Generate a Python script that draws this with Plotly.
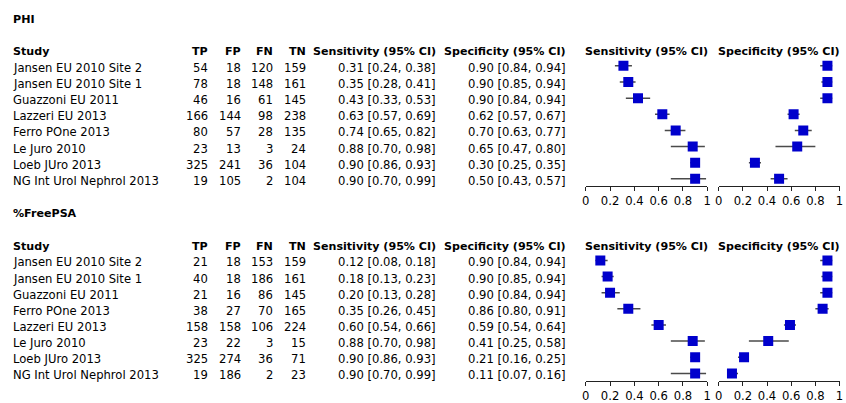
import plotly.graph_objects as go

# ---------------- data ----------------
phi_studies = ["Jansen EU 2010 Site 2", "Jansen EU 2010 Site 1", "Guazzoni EU 2011",
               "Lazzeri EU 2013", "Ferro POne 2013", "Le Juro 2010", "Loeb JUro 2013",
               "NG Int Urol Nephrol 2013"]
phi_tp = [54, 78, 46, 166, 80, 23, 325, 19]
phi_fp = [18, 18, 16, 144, 57, 13, 241, 105]
phi_fn = [120, 148, 61, 98, 28, 3, 36, 2]
phi_tn = [159, 161, 145, 238, 135, 24, 104, 104]
phi_sens = [0.31, 0.35, 0.43, 0.63, 0.74, 0.88, 0.90, 0.90]
phi_sens_lo = [0.24, 0.28, 0.33, 0.57, 0.65, 0.70, 0.86, 0.70]
phi_sens_hi = [0.38, 0.41, 0.53, 0.69, 0.82, 0.98, 0.93, 0.99]
phi_spec = [0.90, 0.90, 0.90, 0.62, 0.70, 0.65, 0.30, 0.50]
phi_spec_lo = [0.84, 0.85, 0.84, 0.57, 0.63, 0.47, 0.25, 0.43]
phi_spec_hi = [0.94, 0.94, 0.94, 0.67, 0.77, 0.80, 0.35, 0.57]

fpsa_studies = ["Jansen EU 2010 Site 2", "Jansen EU 2010 Site 1", "Guazzoni EU 2011",
                "Ferro POne 2013", "Lazzeri EU 2013", "Le Juro 2010", "Loeb JUro 2013",
                "NG Int Urol Nephrol 2013"]
fpsa_tp = [21, 40, 21, 38, 158, 23, 325, 19]
fpsa_fp = [18, 18, 16, 27, 158, 22, 274, 186]
fpsa_fn = [153, 186, 86, 70, 106, 3, 36, 2]
fpsa_tn = [159, 161, 145, 165, 224, 15, 71, 23]
fpsa_sens = [0.12, 0.18, 0.20, 0.35, 0.60, 0.88, 0.90, 0.90]
fpsa_sens_lo = [0.08, 0.13, 0.13, 0.26, 0.54, 0.70, 0.86, 0.70]
fpsa_sens_hi = [0.18, 0.23, 0.28, 0.45, 0.66, 0.98, 0.93, 0.99]
fpsa_spec = [0.90, 0.90, 0.90, 0.86, 0.59, 0.41, 0.21, 0.11]
fpsa_spec_lo = [0.84, 0.85, 0.84, 0.80, 0.54, 0.25, 0.16, 0.07]
fpsa_spec_hi = [0.94, 0.94, 0.94, 0.91, 0.64, 0.58, 0.25, 0.16]

panel_titles = ["PHI", "%FreePSA"]
col_headers = ["Study", "TP", "FP", "FN", "TN", "Sensitivity (95% CI)", "Specificity (95% CI)"]
forest_headers = ["Sensitivity (95% CI)", "Specificity (95% CI)"]
tick_vals = [0, 0.2, 0.4, 0.6, 0.8, 1]
tick_text = ["0", "0.2", "0.4", "0.6", "0.8", "1"]

# ---------------- layout constants ----------------
W, H = 846, 403
FONT = "DejaVu Sans"
FS = 11.6
FS_HDR = 11.1
MARK = "#0000CC"
CI_COL = "#4a4a4a"
TSHIFT = -2

def px(x):
    return x / W

x_study = 8
x_right = [207, 240.5, 272.5, 305.5, 437, 568]
sens_dom = [px(587.3), px(710)]
spec_dom = [px(721.5), px(843.5)]
yrange = [8.456, -3.078]
ydoms = [[1 - 189.5 / H, 1.0], [1 - 387.5 / H, 1 - 198 / H]]

panels = [
    dict(studies=phi_studies, tp=phi_tp, fp=phi_fp, fn=phi_fn, tn=phi_tn,
         sens=phi_sens, slo=phi_sens_lo, shi=phi_sens_hi,
         spec=phi_spec, plo=phi_spec_lo, phi=phi_spec_hi),
    dict(studies=fpsa_studies, tp=fpsa_tp, fp=fpsa_fp, fn=fpsa_fn, tn=fpsa_tn,
         sens=fpsa_sens, slo=fpsa_sens_lo, shi=fpsa_sens_hi,
         spec=fpsa_spec, plo=fpsa_spec_lo, phi=fpsa_spec_hi),
]

fig = go.Figure()
annotations = []
layout_axes = {}

def fmt_ci(e, lo, hi):
    return f"{e:.2f} [{lo:.2f}, {hi:.2f}]"

def txt(text, x, y, yref, anchor, size, xref="paper", yshift=TSHIFT):
    return dict(text=text, x=x, y=y, xref=xref, yref=yref, xanchor=anchor,
                yanchor="middle", showarrow=False, borderpad=0, yshift=yshift,
                font=dict(family=FONT, size=size, color="#000"))

for pi, p in enumerate(panels):
    yname = "y" if pi == 0 else "y2"
    ykey = "yaxis" if pi == 0 else "yaxis2"
    xs = ("x", "x2") if pi == 0 else ("x3", "x4")
    xkeys = ("xaxis", "xaxis2") if pi == 0 else ("xaxis3", "xaxis4")
    rows = list(range(1, len(p["studies"]) + 1))

    for xi, (est, lo, hi) in enumerate([(p["sens"], p["slo"], p["shi"]),
                                        (p["spec"], p["plo"], p["phi"])]):
        fig.add_trace(go.Scatter(
            x=est, y=rows, xaxis=xs[xi], yaxis=yname, mode="markers",
            marker=dict(symbol="square", size=10, color=MARK),
            error_x=dict(type="data", symmetric=False,
                         array=[h - e for e, h in zip(est, hi)],
                         arrayminus=[e - l for e, l in zip(est, lo)],
                         color=CI_COL, thickness=1.5, width=0),
            showlegend=False, hoverinfo="skip"))

    for xi, xk in enumerate(xkeys):
        layout_axes[xk] = dict(
            domain=sens_dom if xi == 0 else spec_dom, anchor=yname,
            range=[0, 1], showgrid=False, zeroline=False,
            showline=True, linecolor="#222", linewidth=1,
            ticks="outside", ticklen=4, tickwidth=1, tickcolor="#222",
            tickvals=tick_vals, ticktext=tick_text,
            tickfont=dict(family=FONT, size=FS, color="#000"), fixedrange=True)
    layout_axes[ykey] = dict(domain=ydoms[pi], range=yrange, visible=False,
                             showgrid=False, zeroline=False, fixedrange=True)

    annotations.append(txt(f"<b>{panel_titles[pi]}</b>", px(x_study), -2, yname, "left", FS_HDR))
    annotations.append(txt(f"<b>{col_headers[0]}</b>", px(x_study), 0, yname, "left", FS_HDR))
    for ci, h in enumerate(col_headers[1:]):
        annotations.append(txt(f"<b>{h}</b>", px(x_right[ci]), 0, yname, "right", FS_HDR))
    for xi, h in enumerate(forest_headers):
        annotations.append(txt(f"<b>{h}</b>", 0.5, 0, yname, "center", FS_HDR,
                               xref=f"{xs[xi]} domain"))
    for i, r in enumerate(rows):
        annotations.append(txt(p["studies"][i], px(x_study), r, yname, "left", FS))
        cells = [str(p["tp"][i]), str(p["fp"][i]), str(p["fn"][i]), str(p["tn"][i]),
                 fmt_ci(p["sens"][i], p["slo"][i], p["shi"][i]),
                 fmt_ci(p["spec"][i], p["plo"][i], p["phi"][i])]
        for ci, c in enumerate(cells):
            annotations.append(txt(c, px(x_right[ci]), r, yname, "right", FS))

# inside tick overlays so ticks cross the axis line
for k, base in zip(["xaxis5", "xaxis6", "xaxis7", "xaxis8"], ["x", "x2", "x3", "x4"]):
    yname = "y" if base in ("x", "x2") else "y2"
    layout_axes[k] = dict(overlaying=base, anchor=yname, range=[0, 1],
                          showgrid=False, zeroline=False, showline=False,
                          ticks="inside", ticklen=3, tickwidth=1, tickcolor="#222",
                          tickvals=tick_vals, showticklabels=False, fixedrange=True)

fig.update_layout(
    width=W, height=H, margin=dict(l=0, r=0, t=0, b=0),
    paper_bgcolor="white", plot_bgcolor="white", hovermode=False,
    annotations=annotations, **layout_axes)

fig.write_html("out.html", config={"displayModeBar": False, "staticPlot": True},
               post_script="document.body.style.margin='0';document.body.style.overflow='hidden';")
